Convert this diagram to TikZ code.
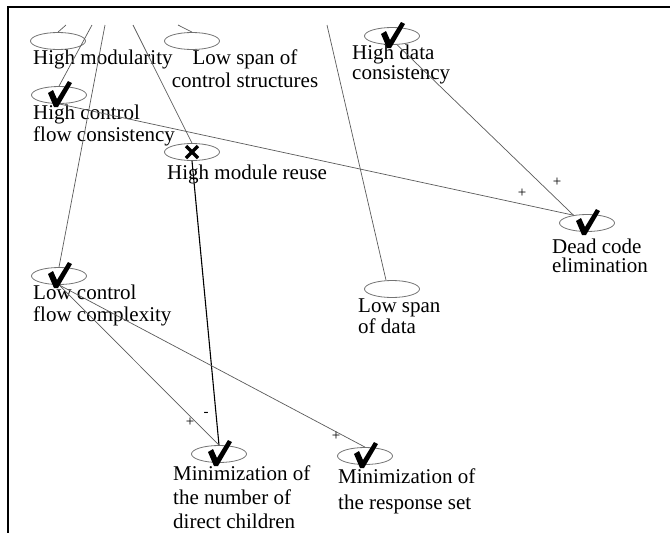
\documentclass[tikz,border=0pt]{standalone}
\usepackage{fontspec}
\setmainfont{Liberation Serif}
\usetikzlibrary{shapes.geometric, positioning}
\definecolor{edgegray}{RGB}{90,90,90}
\definecolor{ovalgray}{RGB}{115,115,115}

% satisfied / denied marks over an oval
\newcommand{\checkat}[1]{%
  \fill[black] ([shift={(-11,-2)}]#1.center) -- ([shift={(-6,-5)}]#1.center) -- ([shift={(-2,4)}]#1.center)
    -- ([shift={(9,-14)}]#1.center) -- ([shift={(13,-12)}]#1.center) -- ([shift={(-1,12)}]#1.center)
    -- ([shift={(-5,12)}]#1.center) -- cycle;}
\newcommand{\crossat}[1]{%
  \draw[line width=3.5pt] ([shift={(-6,-6)}]#1.center) -- ([shift={(6,6)}]#1.center)
    ([shift={(-6,6)}]#1.center) -- ([shift={(6,-6)}]#1.center);}

\begin{document}
\begin{tikzpicture}[x=1pt, y=-1pt,
    concept/.style={ellipse, draw=ovalgray, line width=0.8pt, minimum width=55pt, minimum height=17pt, inner sep=0pt},
    lbl/.style={anchor=north west, align=left, inner sep=0pt, font=\fontsize{21}{22}\selectfont},
    link/.style={draw=edgegray, line width=0.7pt},
    sign/.style={inner sep=0pt, font=\fontsize{15}{15}\selectfont}]
    \useasboundingbox (0,0) rectangle (670,533);

    % Frame
    \draw[line width=2pt] (671,7) -- (8,7) -- (8,534);

    % Softgoals
    \node[concept] (hm) at (58,41) {};
    \node[concept] (lsc) at (192,41) {};
    \node[concept] (hcf) at (59,95) {};
    \node[concept] (hmr) at (192,152) {};
    \node[concept] (hdc) at (392,36) {};
    \node[concept] (dce) at (587,223) {};
    \node[concept] (lsd) at (392,289) {};
    \node[concept] (lcf) at (59,276) {};
    \node[concept] (mnc) at (219,454) {};
    \node[concept] (msr) at (365,456) {};

    % Names
    \node[lbl] (hm-txt) at (33,50) {High modularity};
    \node[lbl, anchor=north, align=center, font=\fontsize{21}{23}\selectfont] (lsc-txt) at (245,50) {Low span of\\control structures};
    \node[lbl] (hcf-txt) at (33,105) {High control\\flow consistency};
    \node[lbl] (hmr-txt) at (167,165) {High module reuse};
    \node[lbl, font=\fontsize{21}{20}\selectfont] (hdc-txt) at (352,45) {High data\\consistency};
    \node[lbl, font=\fontsize{21}{19}\selectfont] (dce-txt) at (552,239) {Dead code\\elimination};
    \node[lbl, font=\fontsize{21}{18.5}\selectfont] (lsd-txt) at (358,299) {Low span\\of data};
    \node[lbl] (lcf-txt) at (33,285) {Low control\\flow complexity};
    \node[lbl, font=\fontsize{21}{24}\selectfont] (mnc-txt) at (173,466) {Minimization of\\the number of\\direct children};
    \node[lbl, font=\fontsize{21}{26}\selectfont] (msr-txt) at (338,469) {Minimization of\\the response set};

    % Links from above the view
    \coordinate (top1) at (66,25);
    \coordinate (top2) at (92,25);
    \coordinate (top3) at (105,25);
    \coordinate (top4) at (133,25);
    \coordinate (top5) at (178,25);
    \coordinate (top6) at (327,25);
    \draw[link] (top1) -- (hm.north);
    \draw[link] (top2) -- (hcf.north);
    \draw[link] (top3) -- (lcf.north);
    \draw[link] (top4) -- (hmr.north);
    \draw[link] (top5) -- (lsc.north);
    \draw[link] (top6) -- ([xshift=-6pt]lsd.north);

    % Contributions
    \draw[link] (hcf.south) -- (dce.150);
    \draw[link] (hdc.-60) -- (dce.150);
    \draw[link, draw=black, line width=1.1pt] (hmr.south) -- (mnc.north);
    \draw[link] (lcf.south) -- (mnc.north);
    \draw[link] (lcf.south) -- (msr.north);
    \node[sign] (s-hcf) at (522,193) {+};
    \node[sign] (s-hdc) at (557,182) {+};
    \node[sign] (s-hmr) at (206,414) {-};
    \node[sign] (s-lcf1) at (190,422) {+};
    \node[sign] (s-lcf2) at (336,436) {+};

    % Labels
    \checkat{hcf}
    \checkat{hdc}
    \checkat{dce}
    \checkat{lcf}
    \checkat{mnc}
    \checkat{msr}
    \crossat{hmr}
\end{tikzpicture}
\end{document}
